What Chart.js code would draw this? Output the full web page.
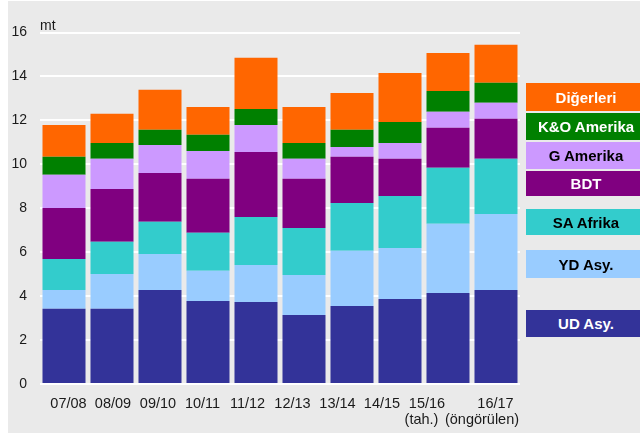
<!DOCTYPE html>
<html>
<head>
<meta charset="utf-8">
<script src="https://cdn.jsdelivr.net/npm/chart.js@4"></script>
<style>
  html, body { margin: 0; padding: 0; background: #fff; overflow: hidden; }
  #wrap { position: relative; width: 640px; height: 436px; }
  #panel { position: absolute; left: 8px; top: 1px; width: 632px; height: 432px; background: #eaeaea; }
  #chart { position: absolute; left: 0; top: 0; }
  .lg { position: absolute; left: 526px; width: 120px; display: flex; align-items: center; justify-content: center;
        font: bold 15px "Liberation Sans", Arial, sans-serif; }
</style>
</head>
<body>
<div id="wrap">
  <div id="panel"></div>
  <canvas id="chart" width="640" height="436"></canvas>
</div>
<script>
// season labels, second line under some of them
const seasons = ["07/08", "08/09", "09/10", "10/11", "11/12", "12/13", "13/14", "14/15", "15/16", "16/17"];
const seasonNotes = ["", "", "", "", "", "", "", "", "(tah.)", "(öngörülen)"];

// million tonnes per region
const udAsy = [3.42, 3.42, 4.28, 3.78, 3.73, 3.14, 3.55, 3.87, 4.14, 4.28];
const ydAsy = [0.86, 1.59, 1.64, 1.37, 1.69, 1.82, 2.51, 2.32, 3.15, 3.46];
const saAfrika = [1.41, 1.46, 1.46, 1.73, 2.18, 2.14, 2.18, 2.37, 2.55, 2.51];
const bdt = [2.32, 2.41, 2.23, 2.46, 2.96, 2.24, 2.10, 1.69, 1.82, 1.82];
const gAmerika = [1.51, 1.37, 1.27, 1.27, 1.23, 0.91, 0.45, 0.72, 0.73, 0.73];
const koAmerika = [0.82, 0.72, 0.69, 0.73, 0.73, 0.72, 0.78, 0.96, 0.95, 0.91];
const digerleri = [1.45, 1.33, 1.82, 1.27, 2.33, 1.64, 1.68, 2.23, 1.73, 1.73];

const yTicks = [0, 2, 4, 6, 8, 10, 12, 14, 16];

const series = [
    { name: "UD Asy.", data: udAsy, color: "#333399", text: "#fff" },
    { name: "YD Asy.", data: ydAsy, color: "#99ccff", text: "#000" },
    { name: "SA Afrika", data: saAfrika, color: "#33cccc", text: "#000" },
    { name: "BDT", data: bdt, color: "#800080", text: "#fff" },
    { name: "G Amerika", data: gAmerika, color: "#cc99ff", text: "#000" },
    { name: "K&O Amerika", data: koAmerika, color: "#008000", text: "#fff" },
    { name: "Diğerleri", data: digerleri, color: "#ff6600", text: "#fff" },
];

// legend boxes on the right (top, height), bottom series first
const legendBoxes = [[310, 27], [250, 28], [209, 26], [171, 25], [142, 27], [113, 27], [83, 28]];
series.forEach((s, i) => {
    const d = document.createElement("div");
    d.className = "lg";
    d.textContent = s.name;
    d.style.top = legendBoxes[i][0] + "px";
    d.style.height = legendBoxes[i][1] + "px";
    d.style.background = s.color;
    d.style.color = s.text;
    document.getElementById("wrap").appendChild(d);
});

// labels in the original are not quite centred on the bars
const labelShift = [4.5, 1, -2, -5.5, -8.5, -11.5, -14.5, -18, -21, -0.5];
const noteShift = [0, 0, 0, 0, 0, 0, 0, 0, -26.5, -14];

const extraText = {
    id: "extraText",
    afterDraw(chart) {
        const ctx = chart.ctx;
        const x = chart.scales.x;
        const area = chart.chartArea;
        ctx.save();
        ctx.fillStyle = "#1a1a1a";
        ctx.font = '14px "Liberation Sans", Arial, sans-serif';
        ctx.textAlign = "left";
        ctx.textBaseline = "alphabetic";
        ctx.fillText("mt", area.left, area.top - 3);
        ctx.textAlign = "center";
        ctx.font = '14.5px "Liberation Sans", Arial, sans-serif';
        seasons.forEach((label, i) => {
            const px = x.getPixelForValue(i);
            ctx.fillText(label, px + labelShift[i], area.bottom + 24);
            if (seasonNotes[i]) {
                ctx.fillText(seasonNotes[i], px + noteShift[i], area.bottom + 40);
            }
        });
        ctx.restore();
    },
};

new Chart(document.getElementById("chart"), {
    type: "bar",
    data: {
        labels: seasons,
        datasets: series.map((s) => ({
            label: s.name,
            data: s.data,
            backgroundColor: s.color,
            borderWidth: 0,
            categoryPercentage: 1,
            barPercentage: 0.896,
        })),
    },
    options: {
        responsive: false,
        animation: false,
        layout: { padding: { top: 32.5, right: 120, bottom: 52, left: 0 } },
        plugins: {
            legend: { display: false },
            tooltip: { enabled: false },
        },
        scales: {
            x: {
                stacked: true,
                grid: { display: false },
                border: { display: false },
                ticks: { display: false },
                afterFit: (scale) => {
                    scale.height = 0;
                },
            },
            y: {
                stacked: true,
                min: 0,
                max: 16,
                afterBuildTicks: (scale) => {
                    scale.ticks = yTicks.map((v) => ({ value: v }));
                },
                afterFit: (scale) => {
                    scale.width = 40;
                },
                grid: { color: "#ffffff", lineWidth: 2, drawTicks: false },
                border: { display: false },
                ticks: {
                    color: "#1a1a1a",
                    padding: 13,
                    font: { family: '"Liberation Sans", Arial, sans-serif', size: 14 },
                },
            },
        },
    },
    plugins: [extraText],
});
</script>
</body>
</html>
